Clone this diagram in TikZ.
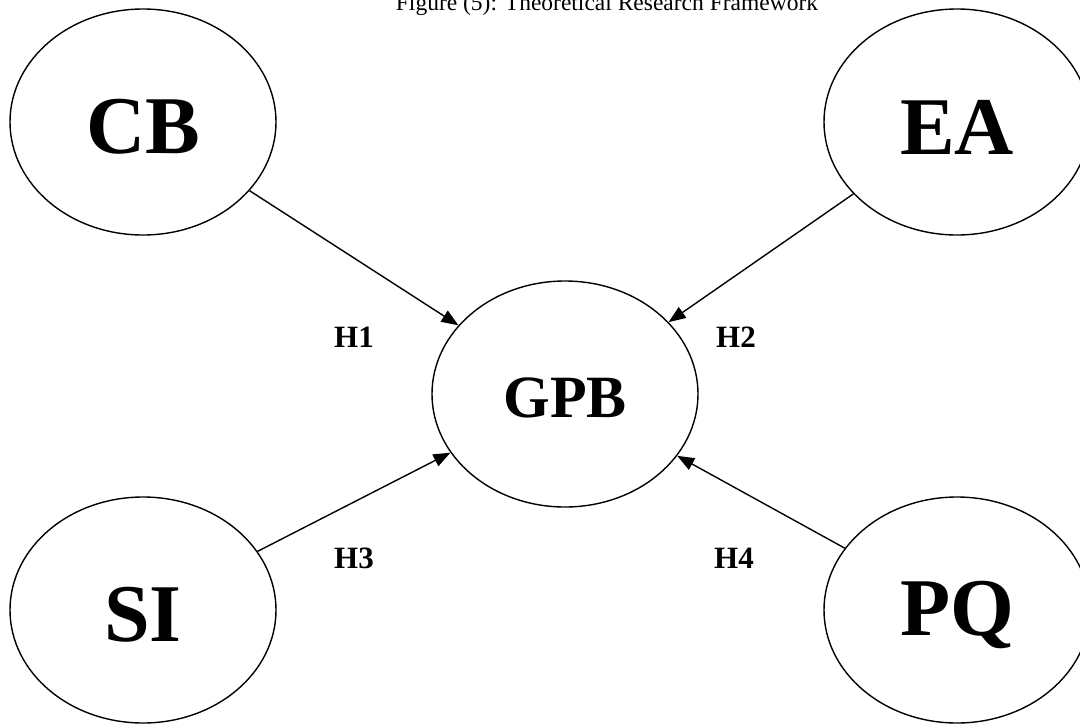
\documentclass[tikz,border=0pt]{standalone}
\usepackage{fontspec}
\setmainfont{Liberation Serif}
\usetikzlibrary{arrows.meta,shapes.geometric}

\begin{document}
\begin{tikzpicture}[x=1pt,y=-1pt,
  construct/.style={draw,ellipse,line width=1.4pt,minimum width=266pt,minimum height=226pt,inner sep=0pt,text height=64pt,font=\bfseries\fontsize{82}{82}\selectfont},
  hyp/.style={font=\bfseries\fontsize{31}{31}\selectfont}]
  \useasboundingbox (0,0) rectangle (1080,724);
  \node (title) at (607,10) [anchor=base,font=\fontsize{23.5}{24}\selectfont] {Figure (5): Theoretical Research Framework};

  \node[construct] (CB) at (143,122) {CB};
  \node[construct] (EA) at (957,122) {EA};
  \node[construct] (SI) at (143,610) {SI};
  \node[construct] (PQ) at (957,610) {PQ};
  \node[construct,text height=47pt,font=\bfseries\fontsize{60}{60}\selectfont] (GPB) at (565,394) {GPB};

  \node[hyp] (H1) at (354,337) {H1};
  \node[hyp] (H2) at (736,337) {H2};
  \node[hyp] (H3) at (354,558) {H3};
  \node[hyp] (H4) at (734,558) {H4};

  \path[-{Triangle[length=17pt,width=13pt]},black,line width=1.4pt]
  (CB) edge (GPB)
  (EA) edge (GPB)
  (SI) edge (GPB)
  (PQ) edge (GPB);
\end{tikzpicture}
\end{document}
